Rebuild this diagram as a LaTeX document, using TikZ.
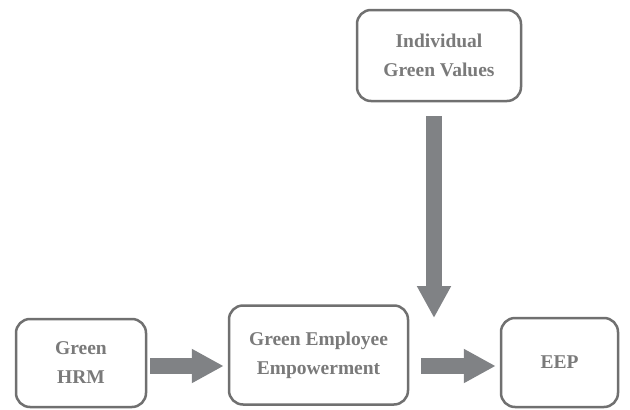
\documentclass[tikz,border=0pt]{standalone}
\usepackage{fontspec}
\setmainfont{Liberation Serif}
\usetikzlibrary{arrows.meta,calc}
\definecolor{boxline}{HTML}{707070}
\definecolor{txt}{HTML}{7A7A7A}
\definecolor{arr}{HTML}{808285}
\begin{document}
\begin{tikzpicture}[x=1pt,y=-1pt,
  box/.style={draw=boxline,line width=2.5pt,rounded corners=14pt,fill=white,
    text=txt,font=\fontsize{19.5}{29}\selectfont\bfseries,align=center,
    inner sep=0pt},
  fat/.style={draw=arr,line width=16pt,-{Triangle[length=32pt,width=32pt,fill=arr]}}]
\useasboundingbox (0,0) rectangle (630,410);
\node[box,minimum width=130pt,minimum height=88pt] (hrm) at (81,363) {\raisebox{-3pt}{Green}\\\raisebox{-3pt}{HRM}};
\node[box,minimum width=179pt,minimum height=99pt] (gee) at (318.5,355) {Green Employee\\Empowerment};
\node[box,minimum width=117pt,minimum height=89pt] (eep) at (559.5,362.5) {\raisebox{-3pt}{EEP}};
\node[box,minimum width=164pt,minimum height=91pt] (igv) at (439,55.5) {Individual\\Green Values};
\coordinate (a1) at ($(hrm.east)+(3,3)$);
\draw[fat,shorten >=4pt] (a1) -- (a1 -| gee.west);
\coordinate (a2) at ($(gee.east)+(12,11)$);
\draw[fat,shorten >=4pt] (a2) -- (a2 -| eep.west);
\coordinate (vs) at ($(igv.south)+(-5,14)$);
\coordinate (vend) at (434,318);
\draw[fat] (vs) -- (vend);
\end{tikzpicture}
\end{document}
